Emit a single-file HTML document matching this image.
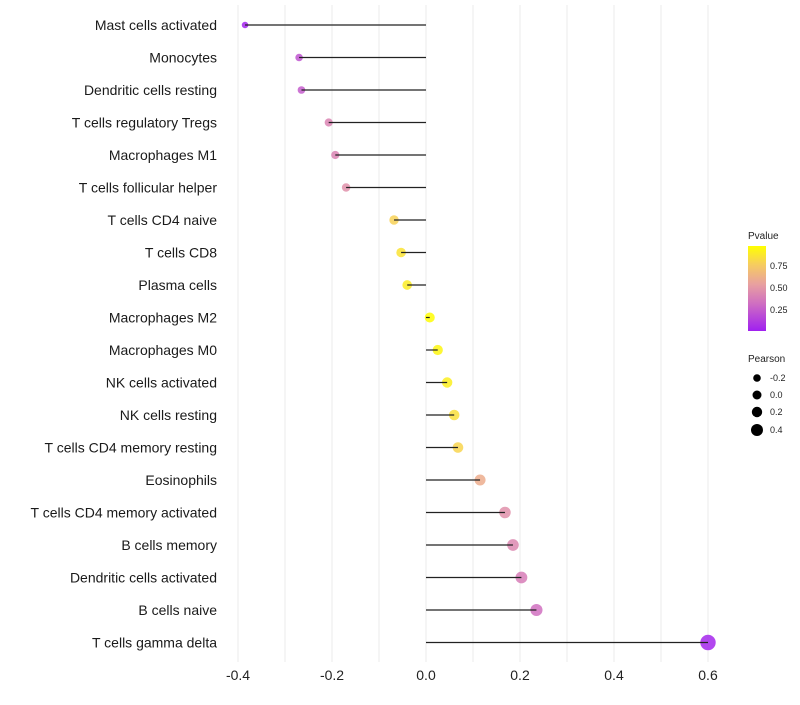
<!DOCTYPE html>
<html><head><meta charset="utf-8"><style>
body{margin:0;background:#fff;font-family:"Liberation Sans",sans-serif}
</style></head><body>
<svg id="c" width="800" height="700" xmlns="http://www.w3.org/2000/svg">
<defs><linearGradient id="g" x1="0" y1="1" x2="0" y2="0">
<stop offset="0" stop-color="#a020f0"/><stop offset="0.33" stop-color="#d070c0"/><stop offset="0.55" stop-color="#e8a0a0"/><stop offset="0.78" stop-color="#f6cc60"/><stop offset="1" stop-color="#ffff00"/></linearGradient></defs>
<g id="grid"></g><g id="dots"></g><g id="marks"></g><g id="labels"></g>
<g font-size="9" fill="#222">
<text x="748" y="239" font-size="10">Pvalue</text>
<rect x="748" y="246" width="18" height="85" fill="url(#g)"/>
<text x="770" y="269">0.75</text><text x="770" y="291">0.50</text><text x="770" y="313">0.25</text>
<text x="748" y="362" font-size="10">Pearson</text>
<circle cx="757" cy="378" r="3.8" fill="#000"/><text x="770" y="381">-0.2</text>
<circle cx="757" cy="395" r="4.5" fill="#000"/><text x="770" y="398">0.0</text>
<circle cx="757" cy="412" r="5.2" fill="#000"/><text x="770" y="415">0.2</text>
<circle cx="757" cy="430" r="6" fill="#000"/><text x="770" y="433">0.4</text>
</g>
</svg>
<script>
const categories=["Mast cells activated","Monocytes","Dendritic cells resting","T cells regulatory  Tregs ","Macrophages M1","T cells follicular helper","T cells CD4 naive","T cells CD8","Plasma cells","Macrophages M2","Macrophages M0","NK cells activated","NK cells resting","T cells CD4 memory resting","Eosinophils","T cells CD4 memory activated","B cells memory","Dendritic cells activated","B cells naive","T cells gamma delta"];
const pearson=[-0.385,-0.27,-0.265,-0.207,-0.193,-0.17,-0.068,-0.053,-0.04,0.008,0.025,0.045,0.06,0.068,0.115,0.168,0.185,0.203,0.235,0.6];
const pvalue=[0.02,0.22,0.25,0.42,0.42,0.48,0.8,0.88,0.92,0.99,0.96,0.93,0.86,0.82,0.62,0.48,0.44,0.39,0.33,0.03];
const xTicks=[-0.4,-0.2,0,0.2,0.4,0.6];
const xTickLabels=["-0.4","-0.2","0.0","0.2","0.4","0.6"];
const NS="http://www.w3.org/2000/svg";
const X=v=>426+v*470;
const Y=i=>25+i*32.5;
const stops=[[0,[160,32,240]],[0.33,[208,112,192]],[0.55,[232,160,160]],[0.78,[246,204,96]],[1,[255,255,0]]];
function col(p){for(let k=0;k<stops.length-1;k++){const [p0,a]=stops[k],[p1,b]=stops[k+1];if(p<=p1){const t=(p-p0)/(p1-p0);return `rgb(${a.map((v,j)=>Math.round(v+(b[j]-v)*t)).join(',')})`}}return 'rgb(255,255,0)'}
function mk(tag,at,par){const e=document.createElementNS(NS,tag);for(const k in at)e.setAttribute(k,at[k]);document.getElementById(par).appendChild(e);return e}
for(let v=-0.4;v<=0.61;v+=0.1){const l=mk('line',{x1:X(v),x2:X(v),y1:5,y2:662,stroke:'#ebebeb','stroke-width':1},'grid');

}
xTicks.forEach((v,i)=>{const t=mk('text',{x:X(v),y:680,'text-anchor':'middle','font-size':14,fill:'#222'},'labels');t.textContent=xTickLabels[i];

});
categories.forEach((c,i)=>{
const t=mk('text',{x:217,y:Y(i)+5,'text-anchor':'end','font-size':14,fill:'#1a1a1a'},'labels');t.textContent=c;


const r=Math.max(2.2,5.0+pearson[i]*4.5);
const d=mk('circle',{cx:X(pearson[i]),cy:Y(i),r:r,fill:col(pvalue[i]),'fill-opacity':0.85},'dots');


const l=mk('line',{x1:X(0),x2:X(pearson[i]),y1:Y(i),y2:Y(i),stroke:'#222','stroke-width':1.2},'marks');


});
</script>
</body></html>
